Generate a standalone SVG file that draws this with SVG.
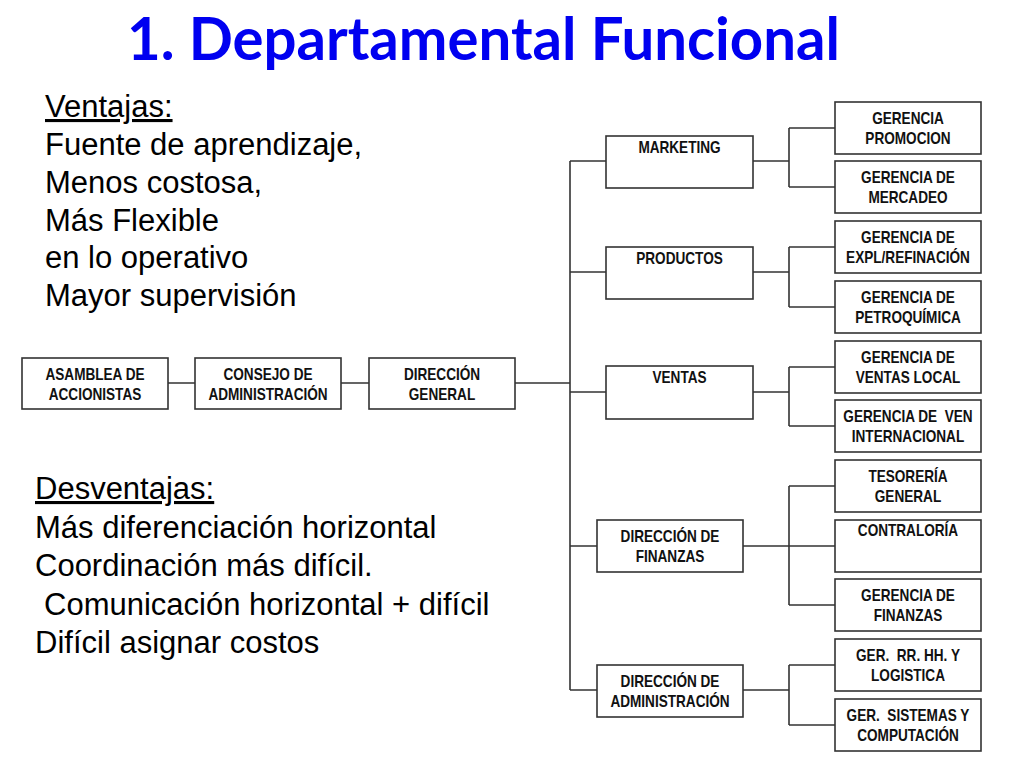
<svg xmlns="http://www.w3.org/2000/svg" width="1024" height="768" viewBox="0 0 1024 768">
<style>
.box{fill:#fff;stroke:#333;stroke-width:1.6}
.bt{font-family:"Liberation Sans",Arial,sans-serif;font-weight:bold;font-size:16px;fill:#111;text-anchor:middle}
.con{fill:none;stroke:#333;stroke-width:1.6}
.lt{font-family:"Liberation Sans",Arial,sans-serif;font-size:31px;fill:#000}
.title{font-family:Lato,"Open Sans",sans-serif;font-weight:bold;font-size:60px;fill:#0000F0}
</style>
<rect width="1024" height="768" fill="#fff"/>
<text class="title" x="127" y="60" textLength="713" lengthAdjust="spacingAndGlyphs">1. Departamental Funcional</text>
<g id="ventajas">
<text class="lt" x="45" y="117" text-decoration="underline">Ventajas:</text>
<text class="lt" x="45" y="155">Fuente de aprendizaje,</text>
<text class="lt" x="45" y="193">Menos costosa,</text>
<text class="lt" x="45" y="230.5">Más Flexible</text>
<text class="lt" x="45" y="268">en lo operativo</text>
<text class="lt" x="45" y="306">Mayor supervisión</text>
</g>
<g id="desventajas">
<text class="lt" x="35" y="499" text-decoration="underline">Desventajas:</text>
<text class="lt" x="35" y="537.5">Más diferenciación horizontal</text>
<text class="lt" x="35" y="576">Coordinación más difícil.</text>
<text class="lt" x="44" y="614.5">Comunicación horizontal + difícil</text>
<text class="lt" x="35" y="653">Difícil asignar costos</text>
</g>
<g id="connectors">
<path class="con" d="M168 383H195M341 383H369M515 383H570"/>
<path class="con" d="M570 161V690M570 161H606M570 272H606M570 392H606M570 546H597M570 690H597"/>
<path class="con" d="M753 161H789M789 128V187M789 128H835M789 187H835"/>
<path class="con" d="M753 272H789M789 247V307M789 247H835M789 307H835"/>
<path class="con" d="M753 392H789M789 367V426M789 367H835M789 426H835"/>
<path class="con" d="M743 546H835M789 486V605M789 486H835M789 605H835"/>
<path class="con" d="M743 690H789M789 665V725M789 665H835M789 725H835"/>
</g>
<g id="asamblea"><rect class="box" x="22" y="358" width="146" height="51"/><text class="bt" transform="translate(95 380) scale(0.85 1)">ASAMBLEA DE</text><text class="bt" transform="translate(95 400) scale(0.85 1)">ACCIONISTAS</text></g>
<g id="consejo"><rect class="box" x="195" y="358" width="146" height="51"/><text class="bt" transform="translate(268 380) scale(0.85 1)">CONSEJO DE</text><text class="bt" transform="translate(268 400) scale(0.85 1)">ADMINISTRACIÓN</text></g>
<g id="direccion-general"><rect class="box" x="369" y="358" width="146" height="51"/><text class="bt" transform="translate(442 380) scale(0.85 1)">DIRECCIÓN</text><text class="bt" transform="translate(442 400) scale(0.85 1)">GENERAL</text></g>
<g id="marketing"><rect class="box" x="606" y="136" width="147" height="52"/><text class="bt" transform="translate(679.5 152.5) scale(0.85 1)">MARKETING</text></g>
<g id="productos"><rect class="box" x="606" y="247" width="147" height="52"/><text class="bt" transform="translate(679.5 263.5) scale(0.85 1)">PRODUCTOS</text></g>
<g id="ventas"><rect class="box" x="606" y="366" width="147" height="53"/><text class="bt" transform="translate(679.5 382.5) scale(0.85 1)">VENTAS</text></g>
<g id="dir-finanzas"><rect class="box" x="597" y="520" width="146" height="52"/><text class="bt" transform="translate(670 542) scale(0.85 1)">DIRECCIÓN DE</text><text class="bt" transform="translate(670 562) scale(0.85 1)">FINANZAS</text></g>
<g id="dir-administracion"><rect class="box" x="597" y="665" width="146" height="52"/><text class="bt" transform="translate(670 687) scale(0.85 1)">DIRECCIÓN DE</text><text class="bt" transform="translate(670 707) scale(0.85 1)">ADMINISTRACIÓN</text></g>
<g id="ger-promocion"><rect class="box" x="835" y="102" width="146" height="52"/><text class="bt" transform="translate(908 124) scale(0.85 1)">GERENCIA</text><text class="bt" transform="translate(908 144) scale(0.85 1)">PROMOCION</text></g>
<g id="ger-mercadeo"><rect class="box" x="835" y="161" width="146" height="52"/><text class="bt" transform="translate(908 183) scale(0.85 1)">GERENCIA DE</text><text class="bt" transform="translate(908 203) scale(0.85 1)">MERCADEO</text></g>
<g id="ger-expl"><rect class="box" x="835" y="221" width="146" height="52"/><text class="bt" transform="translate(908 243) scale(0.85 1)">GERENCIA DE</text><text class="bt" transform="translate(908 263) scale(0.85 1)">EXPL/REFINACIÓN</text></g>
<g id="ger-petroquimica"><rect class="box" x="835" y="281" width="146" height="52"/><text class="bt" transform="translate(908 303) scale(0.85 1)">GERENCIA DE</text><text class="bt" transform="translate(908 323) scale(0.85 1)">PETROQUÍMICA</text></g>
<g id="ger-ventas-local"><rect class="box" x="835" y="341" width="146" height="52"/><text class="bt" transform="translate(908 363) scale(0.85 1)">GERENCIA DE</text><text class="bt" transform="translate(908 383) scale(0.85 1)">VENTAS LOCAL</text></g>
<g id="ger-ven-internacional"><rect class="box" x="835" y="400" width="146" height="52"/><text class="bt" transform="translate(908 422) scale(0.85 1)" xml:space="preserve">GERENCIA DE  VEN</text><text class="bt" transform="translate(908 442) scale(0.85 1)">INTERNACIONAL</text></g>
<g id="tesoreria"><rect class="box" x="835" y="460" width="146" height="52"/><text class="bt" transform="translate(908 482) scale(0.85 1)">TESORERÍA</text><text class="bt" transform="translate(908 502) scale(0.85 1)">GENERAL</text></g>
<g id="contraloria"><rect class="box" x="835" y="520" width="146" height="52"/><text class="bt" transform="translate(908 536) scale(0.85 1)">CONTRALORÍA</text></g>
<g id="ger-finanzas"><rect class="box" x="835" y="579" width="146" height="52"/><text class="bt" transform="translate(908 601) scale(0.85 1)">GERENCIA DE</text><text class="bt" transform="translate(908 621) scale(0.85 1)">FINANZAS</text></g>
<g id="ger-rrhh"><rect class="box" x="835" y="639" width="146" height="52"/><text class="bt" transform="translate(908 661) scale(0.85 1)" xml:space="preserve">GER.  RR. HH. Y</text><text class="bt" transform="translate(908 681) scale(0.85 1)">LOGISTICA</text></g>
<g id="ger-sistemas"><rect class="box" x="835" y="699" width="146" height="52"/><text class="bt" transform="translate(908 721) scale(0.85 1)" xml:space="preserve">GER.  SISTEMAS Y</text><text class="bt" transform="translate(908 741) scale(0.85 1)">COMPUTACIÓN</text></g>
</svg>
